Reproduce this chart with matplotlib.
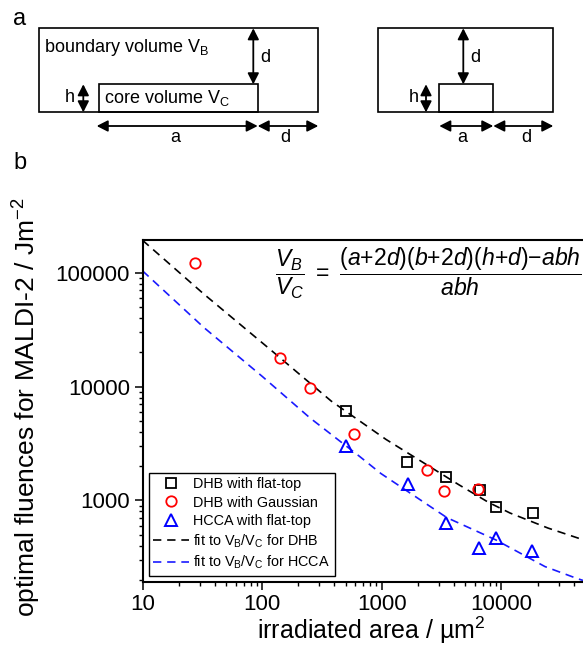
import numpy as np
import matplotlib
matplotlib.use('Agg')
import matplotlib.pyplot as plt
from matplotlib.patches import Rectangle
from matplotlib.ticker import FuncFormatter, LogLocator

plt.rcParams['font.family'] = ['Liberation Sans', 'DejaVu Sans']
plt.rcParams['mathtext.fontset'] = 'custom'
plt.rcParams['mathtext.rm'] = 'Liberation Sans'
plt.rcParams['mathtext.it'] = 'Liberation Sans:italic'
plt.rcParams['mathtext.bf'] = 'Liberation Sans:bold'

# --- Messwerte (Fläche in µm², Fluenz in J/m²) ---
dhb_flat_area = [498, 1620, 3410, 6650, 9040, 18200]
dhb_flat_fluence = [6090, 2180, 1600, 1240, 867, 775]

dhb_gauss_area = [27.4, 141, 250, 591, 2370, 3340, 6320]
dhb_gauss_fluence = [121000, 18000, 9640, 3800, 1840, 1220, 1260]

hcca_flat_area = [498, 1640, 3410, 6530, 9040, 18100]
hcca_flat_fluence = [2990, 1395, 632, 381, 467, 361]

# Fit-Kurven V_B/V_C
fit_dhb_area = [10, 32.6, 116, 378, 1085, 4390, 7800, 11800, 24500, 43500, 48000]
fit_dhb_fluence = [193000, 64900, 21300, 7450, 3430, 1375, 960, 774, 571, 467, 450]

fit_hcca_area = [10, 32.6, 100, 250, 650, 984, 3500, 8910, 23100, 42200, 48000]
fit_hcca_fluence = [104000, 33000, 12300, 5320, 2440, 1720, 705, 451, 262, 207, 198]

y_ticks = [1000, 10000, 100000]
x_ticks = [10, 100, 1000, 10000]

# --- Schema (Pixelkoordinaten der Skizze oben) ---
outer_rects = [(39.3, 28.3, 318.3, 112.3), (378.3, 28.3, 553.3, 112.3)]
inner_rects = [(99, 84.3, 257.7, 112.3), (439.3, 84.3, 493.3, 112.3)]
v_arrows = [(253.3, 28.3, 84.3), (83.3, 84.3, 112.3),
            (463.3, 28.3, 84.3), (426, 84.3, 112.3)]
h_arrows = [(96.7, 257.7, 126), (257.7, 318.3, 126),
            (439.3, 493.3, 126), (493.3, 553.3, 126)]
sketch_labels = [(265, 58, 'd'), (70, 98, 'h'), (175, 137, 'a'), (285, 137, 'd'),
                 (475.7, 58, 'd'), (413.3, 98, 'h'), (462.7, 137, 'a'), (526, 137, 'd')]

W, H = 583, 646
fig = plt.figure(figsize=(W / 100, H / 100), dpi=100)

# Skizze
ax0 = fig.add_axes([0, 0, 1, 1])
ax0.set_xlim(0, W)
ax0.set_ylim(H, 0)
ax0.axis('off')

for x0, y0, x1, y1 in outer_rects + inner_rects:
    ax0.add_patch(Rectangle((x0, y0), x1 - x0, y1 - y0, fill=False,
                            edgecolor='black', lw=1.2))

arr = dict(arrowstyle='<|-|>,head_length=0.55,head_width=0.28', color='black',
           lw=1.3, mutation_scale=12, shrinkA=0, shrinkB=0)
for x, y0, y1 in v_arrows:
    ax0.annotate('', xy=(x, y0), xytext=(x, y1), arrowprops=arr)
for x0, x1, y in h_arrows:
    ax0.annotate('', xy=(x0, y), xytext=(x1, y), arrowprops=arr)

for x, y, s in sketch_labels:
    ax0.text(x, y, s, fontsize=13, ha='center', va='center')

ax0.text(44, 47, r'boundary volume V$_\mathrm{B}$', fontsize=13, ha='left', va='center')
ax0.text(104, 98, r'core volume V$_\mathrm{C}$', fontsize=13, ha='left', va='center')
ax0.text(20, 19, 'a', fontsize=17, ha='center', va='center')
ax0.text(20, 163, 'b', fontsize=17, ha='center', va='center')

# Diagramm
left, right = 142.5, 583
top, bottom = 240, 581.7
ax = fig.add_axes([left / W, (H - bottom) / H, (right - left) / W, (bottom - top) / H])
ax.set_xscale('log')
ax.set_yscale('log')

ax.plot(fit_dhb_area, fit_dhb_fluence, color='black', lw=1.2, ls=(0, (5, 3.5)),
        label=r'fit to V$_\mathrm{B}$/V$_\mathrm{C}$ for DHB')
ax.plot(fit_hcca_area, fit_hcca_fluence, color='#1a1aff', lw=1.2, ls=(0, (5, 3.5)),
        label=r'fit to V$_\mathrm{B}$/V$_\mathrm{C}$ for HCCA')
ax.plot(dhb_flat_area, dhb_flat_fluence, ls='none', marker='s', ms=6.5, mfc='none',
        mec='black', mew=1.3, label='DHB with flat-top')
ax.plot(dhb_gauss_area, dhb_gauss_fluence, ls='none', marker='o', ms=7.5, mfc='none',
        mec='#ff0000', mew=1.3, label='DHB with Gaussian')
ax.plot(hcca_flat_area, hcca_flat_fluence, ls='none', marker='^', ms=8.5, mfc='none',
        mec='#0000ff', mew=1.4, label='HCCA with flat-top')

ax.set_xlim(10, 48000)
ax.set_ylim(193, 194000)

fmt = FuncFormatter(lambda v, _: f'{v:g}')
ax.set_xticks(x_ticks)
ax.set_yticks(y_ticks)
ax.xaxis.set_major_formatter(fmt)
ax.yaxis.set_major_formatter(fmt)
ax.xaxis.set_minor_locator(LogLocator(base=10, subs=np.arange(2, 10)))
ax.yaxis.set_minor_locator(LogLocator(base=10, subs=np.arange(2, 10)))
ax.xaxis.set_minor_formatter(FuncFormatter(lambda v, _: ''))
ax.yaxis.set_minor_formatter(FuncFormatter(lambda v, _: ''))
ax.tick_params(which='major', direction='out', length=6, width=1.1, labelsize=16, pad=3)
ax.tick_params(which='minor', direction='out', length=3, width=1.0)
ax.tick_params(axis='x', which='major', pad=2.5)

for s in ['left', 'bottom', 'top']:
    ax.spines[s].set_linewidth(1.5)
ax.spines['right'].set_visible(False)

ax.set_xlabel(r'irradiated area / µm$^2$', fontsize=18, va='bottom')
ax.set_ylabel(r'optimal fluences for MALDI-2 / Jm$^{-2}$', fontsize=19, va='center')
ax.xaxis.set_label_coords(0.519, -0.188)
ax.yaxis.set_label_coords(-0.262, 0.51)

ax.text(0.648, 0.903,
        r'$\dfrac{V_B}{V_C}\ =\ \dfrac{(a{+}2d)(b{+}2d)(h{+}d){-}abh}{abh}$',
        transform=ax.transAxes, fontsize=16.6, ha='center', va='center')

handles, labels = ax.get_legend_handles_labels()
order = [2, 3, 4, 0, 1]
leg = ax.legend([handles[i] for i in order], [labels[i] for i in order],
                loc='lower left', bbox_to_anchor=(0.014, 0.0176), borderaxespad=0,
                fontsize=10.4, fancybox=False, framealpha=1, edgecolor='black',
                handlelength=2.5, handletextpad=0.3, labelspacing=0.3,
                borderpad=0.3)
leg.get_frame().set_linewidth(1.0)

fig.savefig('out.png', dpi=100)
